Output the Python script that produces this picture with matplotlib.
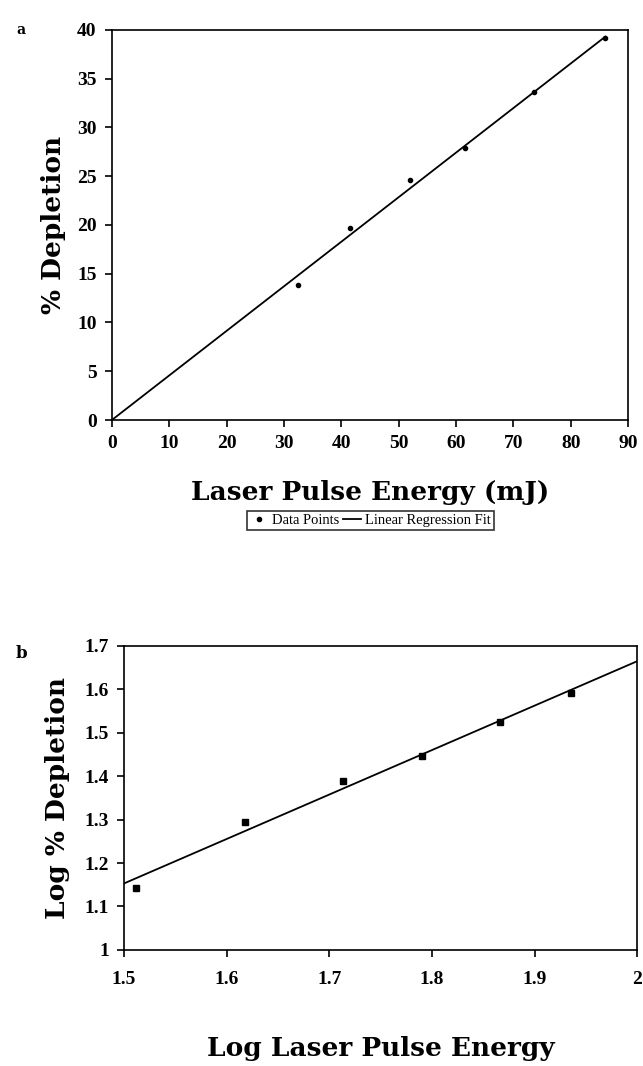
import matplotlib
matplotlib.use("Agg")
import matplotlib.pyplot as plt
from matplotlib.lines import Line2D

# Panel a data
energy_mj = [32.5, 41.5, 52.0, 61.5, 73.5, 86.0]
depletion = [13.8, 19.7, 24.6, 27.9, 33.6, 39.2]
fit_a_x = [0.0, 86.0]
fit_a_y = [0.0, 39.3]
xticks_a = [0, 10, 20, 30, 40, 50, 60, 70, 80, 90]
yticks_a = [0, 5, 10, 15, 20, 25, 30, 35, 40]

# Panel b data
log_energy = [1.512, 1.618, 1.713, 1.790, 1.866, 1.935]
log_depletion = [1.142, 1.295, 1.390, 1.446, 1.526, 1.592]
fit_b_x = [1.5, 2.0]
fit_b_y = [1.153, 1.665]
xticks_b = [1.5, 1.6, 1.7, 1.8, 1.9, 2.0]
xticklabels_b = ["1.5", "1.6", "1.7", "1.8", "1.9", "2"]
yticks_b = [1.0, 1.1, 1.2, 1.3, 1.4, 1.5, 1.6, 1.7]
yticklabels_b = ["1", "1.1", "1.2", "1.3", "1.4", "1.5", "1.6", "1.7"]

tick_font = dict(family="Liberation Serif", weight="bold", size=14)
label_font = dict(family="DejaVu Serif", weight="bold", size=19)

fig = plt.figure(figsize=(6.43, 10.66), dpi=100)

def style(ax):
    for s in ax.spines.values():
        s.set_linewidth(1.2)
        s.set_color("black")
    ax.tick_params(direction="out", length=5, width=1.2, colors="black", pad=6)
    for lbl in ax.get_xticklabels() + ax.get_yticklabels():
        lbl.set_fontfamily(tick_font["family"])
        lbl.set_fontweight(tick_font["weight"])
        lbl.set_fontsize(tick_font["size"])

# Panel a
ax1 = fig.add_axes([0.174, 0.606, 0.803, 0.366])
ax1.plot(energy_mj, depletion, "o", color="black", markersize=3, label="Data Points")
ax1.plot(fit_a_x, fit_a_y, "-", color="black", linewidth=1.3, label="Linear Regression Fit")
ax1.set_xlim(0, 90)
ax1.set_ylim(0, 40)
ax1.set_xticks(xticks_a)
ax1.set_yticks(yticks_a)
ax1.set_xticklabels([str(v) for v in xticks_a])
ax1.set_yticklabels([str(v) for v in yticks_a])
style(ax1)
ax1.set_xlabel("Laser Pulse Energy (mJ)", fontdict=label_font, labelpad=20)
ax1.set_ylabel("% Depletion", fontdict=label_font, labelpad=8)
fig.text(0.025, 0.968, "a", fontfamily="DejaVu Serif", fontweight="bold", fontsize=10)

handles = [
    Line2D([], [], marker="o", linestyle="none", color="black", markersize=3),
    Line2D([], [], linestyle="-", color="black", linewidth=1.3),
]
leg = fig.legend(handles, ["Data Points", "Linear Regression Fit"], ncol=2,
                 loc="center", bbox_to_anchor=(0.576, 0.512),
                 frameon=True, fancybox=False, edgecolor="black",
                 prop=dict(family="Liberation Serif", size=10.5),
                 handlelength=1.2, handletextpad=0.3, columnspacing=0.3,
                 borderpad=0.2, borderaxespad=0)
leg.get_frame().set_linewidth(1.2)

# Panel b
ax2 = fig.add_axes([0.193, 0.109, 0.798, 0.285])
ax2.plot(log_energy, log_depletion, "s", color="black", markersize=4.5)
ax2.plot(fit_b_x, fit_b_y, "-", color="black", linewidth=1.3)
ax2.set_xlim(1.5, 2.0)
ax2.set_ylim(1.0, 1.7)
ax2.set_xticks(xticks_b)
ax2.set_yticks(yticks_b)
ax2.set_xticklabels(xticklabels_b)
ax2.set_yticklabels(yticklabels_b)
style(ax2)
ax2.tick_params(axis="x", pad=10)
ax2.set_xlabel("Log Laser Pulse Energy", fontdict=label_font, labelpad=35)
ax2.set_ylabel("Log % Depletion", fontdict=label_font, labelpad=10)
fig.text(0.025, 0.383, "b", fontfamily="DejaVu Serif", fontweight="bold", fontsize=12)

fig.savefig("out.png", dpi=100)
